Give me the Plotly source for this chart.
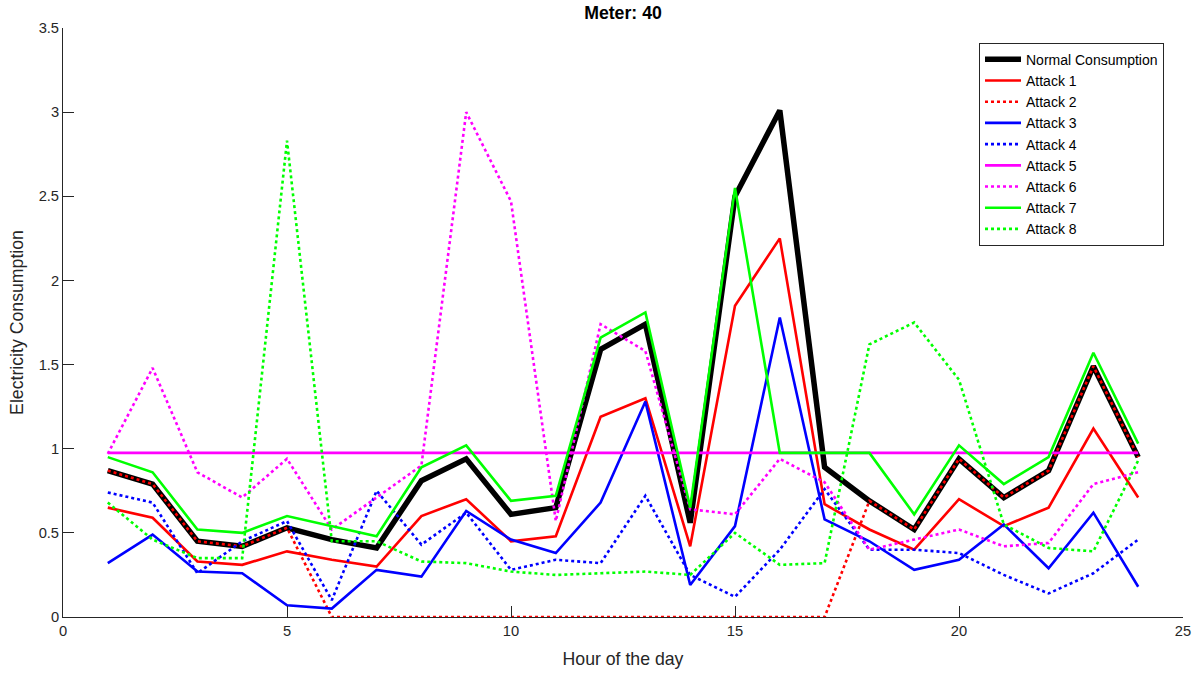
import plotly.graph_objects as go

hours = list(range(1, 25))

normal = [0.87, 0.79, 0.45, 0.42, 0.53, 0.46, 0.41, 0.81, 0.94, 0.61, 0.65, 1.59,
          1.74, 0.56, 2.50, 3.01, 0.89, 0.69, 0.52, 0.94, 0.71, 0.87, 1.49, 0.95]
attack1 = [0.65, 0.59, 0.33, 0.31, 0.39, 0.34, 0.30, 0.60, 0.70, 0.45, 0.48, 1.19,
           1.30, 0.42, 1.85, 2.25, 0.67, 0.52, 0.40, 0.70, 0.54, 0.65, 1.12, 0.71]
attack2 = [0.87, 0.79, 0.45, 0.42, 0.53, 0.0, 0.0, 0.0, 0.0, 0.0, 0.0, 0.0,
           0.0, 0.0, 0.0, 0.0, 0.0, 0.69, 0.52, 0.94, 0.71, 0.87, 1.49, 0.95]
attack3 = [0.32, 0.49, 0.27, 0.26, 0.07, 0.05, 0.28, 0.24, 0.63, 0.46, 0.38, 0.68,
           1.28, 0.19, 0.54, 1.78, 0.58, 0.45, 0.28, 0.34, 0.55, 0.29, 0.62, 0.18]
attack4 = [0.74, 0.68, 0.26, 0.45, 0.57, 0.10, 0.75, 0.43, 0.62, 0.28, 0.34, 0.32,
           0.72, 0.25, 0.12, 0.40, 0.76, 0.40, 0.40, 0.38, 0.25, 0.14, 0.26, 0.46]
attack5 = [0.975] * 24
attack6 = [0.97, 1.48, 0.86, 0.71, 0.94, 0.52, 0.71, 0.90, 3.00, 2.47, 0.57, 1.74,
           1.58, 0.64, 0.61, 0.94, 0.80, 0.40, 0.46, 0.52, 0.42, 0.44, 0.79, 0.86]
attack7 = [0.95, 0.86, 0.52, 0.50, 0.60, 0.54, 0.48, 0.89, 1.02, 0.69, 0.72, 1.66,
           1.81, 0.65, 2.55, 0.975, 0.975, 0.975, 0.61, 1.02, 0.79, 0.95, 1.57, 1.03]
attack8 = [0.68, 0.46, 0.35, 0.35, 2.83, 0.45, 0.45, 0.33, 0.32, 0.27, 0.25, 0.26,
           0.27, 0.25, 0.50, 0.31, 0.32, 1.62, 1.75, 1.41, 0.55, 0.41, 0.39, 0.93]

series = [
    ("Normal Consumption", normal, "#000000", "solid", 5.5),
    ("Attack 1", attack1, "#ff0000", "solid", 2.6),
    ("Attack 2", attack2, "#ff0000", "dot", 2.6),
    ("Attack 3", attack3, "#0000ff", "solid", 2.6),
    ("Attack 4", attack4, "#0000ff", "dot", 2.6),
    ("Attack 5", attack5, "#ff00ff", "solid", 2.6),
    ("Attack 6", attack6, "#ff00ff", "dot", 2.6),
    ("Attack 7", attack7, "#00ff00", "solid", 2.6),
    ("Attack 8", attack8, "#00ff00", "dot", 2.6),
]

fig = go.Figure()
for name, vals, color, dash, width in series:
    fig.add_trace(go.Scatter(
        x=hours, y=vals, mode="lines", name=name,
        line=dict(color=color, dash=dash, width=width),
    ))

font_family = "Liberation Sans, Arial, Helvetica, sans-serif"
axis_color = "#262626"
tick_size = 14.7
legend_size = 14
label_size = 17.7

fig.update_layout(
    width=1199, height=673,
    margin=dict(l=63, r=16, t=28, b=56),
    paper_bgcolor="white", plot_bgcolor="white",
    font=dict(family=font_family, size=tick_size, color=axis_color),
    title=dict(text="<b>Meter: 40</b>", xref="paper", x=0.5, xanchor="center",
               y=1 - 13 / 673, yanchor="middle",
               font=dict(size=label_size, color="#000000")),
    showlegend=True,
    legend=dict(
        x=(979 - 63) / 1120, y=0.975, xanchor="left", yanchor="top",
        bgcolor="white", bordercolor="#262626", borderwidth=1,
        font=dict(size=legend_size, color="#000000"),
        tracegroupgap=0, itemwidth=36,
    ),
    xaxis=dict(
        range=[0, 25], tickmode="array", tickvals=[0, 5, 10, 15, 20, 25],
        ticks="inside", ticklen=11, tickcolor=axis_color,
        showline=True, linecolor=axis_color, linewidth=1,
        showgrid=False, zeroline=False, mirror=False, automargin=False,
        title=dict(text="Hour of the day", font=dict(size=label_size, color=axis_color), standoff=14),
        tickfont=dict(size=tick_size, color=axis_color),
    ),
    yaxis=dict(
        range=[0, 3.5], tickmode="array",
        tickvals=[0, 0.5, 1, 1.5, 2, 2.5, 3, 3.5],
        ticktext=["0", "0.5", "1", "1.5", "2", "2.5", "3", "3.5"],
        ticks="inside", ticklen=11, tickcolor=axis_color,
        showline=True, linecolor=axis_color, linewidth=1,
        showgrid=False, zeroline=False, mirror=False, automargin=False,
        title=dict(text="Electricity Consumption", font=dict(size=label_size, color=axis_color), standoff=10),
        tickfont=dict(size=tick_size, color=axis_color),
    ),
)

fig.write_html("out.html")
